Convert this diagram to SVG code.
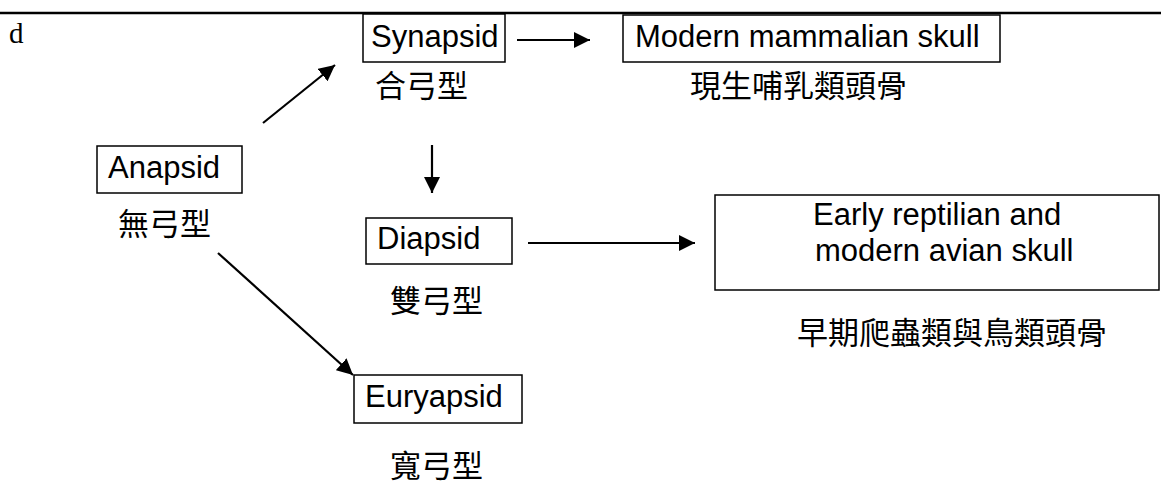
<svg xmlns="http://www.w3.org/2000/svg" width="1161" height="484" viewBox="0 0 1161 484">
<style>
.box{fill:#fff;stroke:#000;stroke-width:1.5}
.en{font-family:"Liberation Sans",Arial,sans-serif;font-size:31px;fill:#000}
.zh{font-family:"Noto Sans CJK TC","Noto Sans CJK SC",sans-serif;font-size:31px;fill:#000}
.edge{stroke:#000;stroke-width:2.2;fill:none;marker-end:url(#ah)}
</style>
<defs>
<marker id="ah" viewBox="0 0 16 16" refX="16" refY="8" markerWidth="16" markerHeight="16" markerUnits="userSpaceOnUse" orient="auto">
<path d="M0,0 L16,8 L0,16 z" fill="#000"/>
</marker>
</defs>
<rect width="1161" height="484" fill="#fff"/>
<line x1="0" y1="13" x2="1161" y2="13" stroke="#000" stroke-width="2.5"/>
<text x="9" y="43" font-family="Liberation Serif,'Times New Roman',serif" font-size="29">d</text>
<g id="connectors">
<line class="edge" x1="263" y1="123" x2="335" y2="65"/>
<line class="edge" x1="517" y1="40" x2="590" y2="40"/>
<line class="edge" x1="432" y1="145" x2="432" y2="193"/>
<line class="edge" x1="528" y1="243" x2="695" y2="243"/>
<line class="edge" x1="218" y1="253" x2="353" y2="375"/>
</g>
<g id="anapsid">
<rect class="box" x="97" y="146" width="145" height="47"/>
<text class="en" x="108" y="178">Anapsid</text>
<text class="zh" x="118" y="235">無弓型</text>
</g>
<g id="synapsid">
<rect class="box" x="363" y="14" width="142" height="48"/>
<text class="en" x="371" y="47">Synapsid</text>
<text class="zh" x="375" y="97">合弓型</text>
</g>
<g id="modern-mammalian">
<rect class="box" x="623" y="15" width="377" height="47"/>
<text class="en" x="635" y="47">Modern mammalian skull</text>
<text class="zh" x="690" y="97">現生哺乳類頭骨</text>
</g>
<g id="diapsid">
<rect class="box" x="366" y="218" width="146" height="46"/>
<text class="en" x="377" y="249">Diapsid</text>
<text class="zh" x="390" y="312">雙弓型</text>
</g>
<g id="early-reptilian">
<rect class="box" x="715" y="195" width="444" height="95"/>
<text class="en" x="813" y="225">Early reptilian and</text>
<text class="en" x="815" y="261">modern avian skull</text>
<text class="zh" x="797" y="344">早期爬蟲類與鳥類頭骨</text>
</g>
<g id="euryapsid">
<rect class="box" x="354" y="375" width="168" height="48"/>
<text class="en" x="365" y="407">Euryapsid</text>
<text class="zh" x="390" y="477">寬弓型</text>
</g>
</svg>
